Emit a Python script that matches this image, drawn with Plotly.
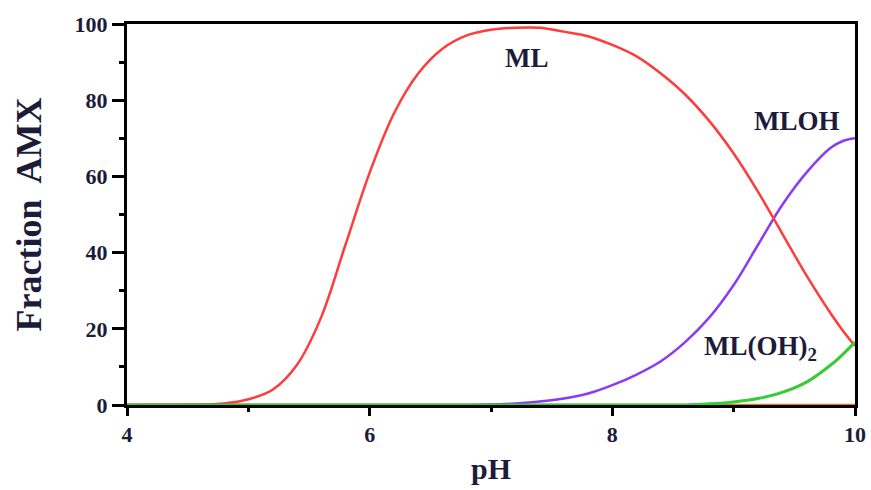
import plotly.graph_objects as go

# Species distribution of the metal–AMX system versus pH (percent of total metal)
ph = [4.0, 4.5, 4.8, 5.0, 5.2, 5.4, 5.6, 5.8, 6.0, 6.2, 6.4, 6.6, 6.8, 7.0, 7.2,
      7.4, 7.6, 7.8, 8.0, 8.2, 8.4, 8.6, 8.8, 9.0, 9.2, 9.4, 9.6, 9.8, 9.9, 10.0]

ml = [0.0, 0.1, 0.4, 1.5, 4.0, 10.5, 23.0, 42.0, 61.0, 76.5, 87.0, 93.5, 97.0, 98.5, 99.0,
      99.0, 98.0, 96.8, 94.5, 91.5, 87.0, 81.5, 74.5, 66.0, 56.0, 45.0, 34.0, 24.0, 19.5, 15.5]

mloh = [0.0, 0.0, 0.0, 0.0, 0.0, 0.0, 0.0, 0.0, 0.0, 0.0, 0.0, 0.0, 0.0, 0.1, 0.4,
        0.9, 1.7, 3.0, 5.2, 8.0, 11.5, 16.5, 23.0, 31.5, 42.0, 52.5, 61.0, 67.5, 69.3, 70.0]

ml_oh2 = [0.0, 0.0, 0.0, 0.0, 0.0, 0.0, 0.0, 0.0, 0.0, 0.0, 0.0, 0.0, 0.0, 0.0, 0.0,
          0.0, 0.0, 0.0, 0.0, 0.0, 0.0, 0.0, 0.3, 0.8, 1.7, 3.3, 6.0, 10.5, 13.3, 16.5]

m_free = [0.0] * len(ph)

x_ticks = [4, 6, 8, 10]
y_ticks = [0, 20, 40, 60, 80, 100]

labels = [
    ("ML", 7.30, 91.0),
    ("MLOH", 9.52, 74.5),
    ("ML(OH)<sub>2</sub>", 9.22, 15.0),
]

FONT = "Liberation Serif"
TEXT = "#1c1c3a"

fig = go.Figure()
fig.add_trace(go.Scatter(x=ph, y=m_free, mode="lines", cliponaxis=False,
                         line=dict(color="#e8781e", width=2.5, shape="spline")))
fig.add_trace(go.Scatter(x=ph, y=mloh, mode="lines", cliponaxis=False,
                         line=dict(color="#8a3cf5", width=2.5, shape="spline")))
fig.add_trace(go.Scatter(x=ph, y=ml, mode="lines", cliponaxis=False,
                         line=dict(color="#ff3b3b", width=2.5, shape="spline")))
fig.add_trace(go.Scatter(x=ph, y=ml_oh2, mode="lines", cliponaxis=False,
                         line=dict(color="#36cc36", width=3, shape="spline")))

for text, xv, yv in labels:
    fig.add_annotation(x=xv, y=yv, text=f"<b>{text}</b>", showarrow=False,
                       font=dict(family=FONT, size=27, color=TEXT))

axis_common = dict(
    showgrid=False, zeroline=False, showline=True, linecolor="black", linewidth=3,
    mirror=True, ticks="outside", tickcolor="black", tickwidth=3, layer="below traces",
    automargin=False, tickfont=dict(family=FONT, size=22, color=TEXT),
)

fig.update_xaxes(
    range=[4, 10], tickvals=x_ticks, ticktext=[f"<b>{v}</b>" for v in x_ticks],
    ticklen=8,
    minor=dict(tickvals=[5, 7, 9], ticklen=4, tickwidth=3, tickcolor="black", ticks="outside"),
    title=dict(text="<b>pH</b>", font=dict(family=FONT, size=30, color=TEXT), standoff=12),
    **axis_common,
)
fig.update_yaxes(
    range=[0, 100], tickvals=y_ticks, ticktext=[f"<b>{v}</b>" for v in y_ticks],
    ticklen=12,
    minor=dict(tickvals=[10, 30, 50, 70, 90], ticklen=5, tickwidth=3, tickcolor="black", ticks="outside"),
    title=dict(text="<b>Fraction\u00a0 AMX</b>", font=dict(family=FONT, size=36, color=TEXT), standoff=22),
    **axis_common,
)

fig.update_layout(
    width=871, height=490,
    margin=dict(l=127, r=16, t=24, b=85),
    paper_bgcolor="white", plot_bgcolor="white",
    showlegend=False,
)

fig.write_html("out.html")
